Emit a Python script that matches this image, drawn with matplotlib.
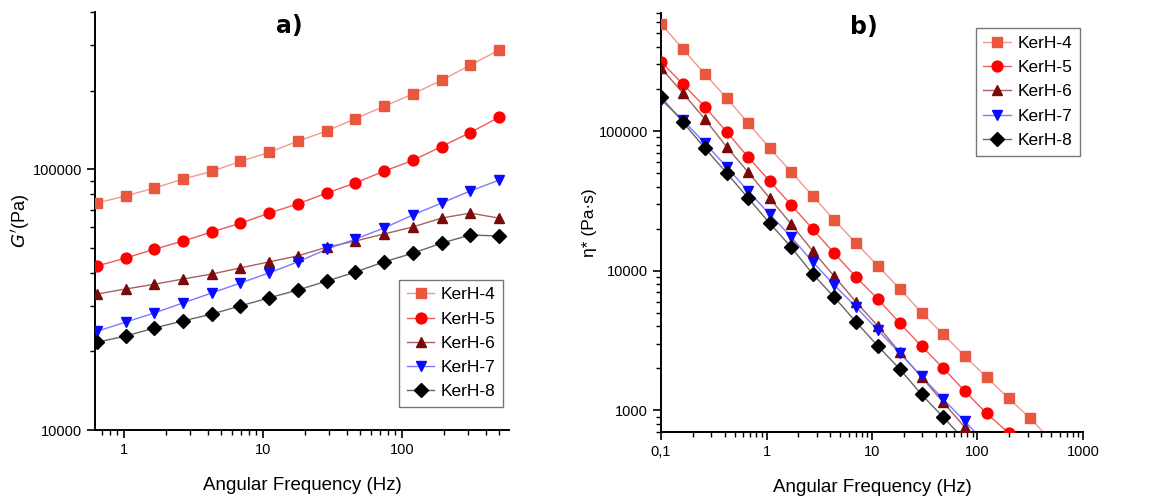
import matplotlib as mpl
mpl.use('Agg')
import matplotlib.pyplot as plt
from matplotlib.ticker import LogLocator, FixedLocator, FixedFormatter, NullFormatter

plt.rcParams['font.family'] = ['Liberation Sans Narrow', 'Liberation Sans', 'DejaVu Sans']

# ---- data: a) storage modulus G' ----
freq_a = [0.64, 1.03, 1.66, 2.67, 4.29, 6.9, 11.1, 17.9, 28.8, 46.3, 74.5, 120, 193, 310, 500]
gp = {
    'KerH-4': [74100, 78900, 84600, 91600, 98000, 107000, 116000, 128000, 140000, 156000,
               174000, 194000, 219000, 250000, 286000],
    'KerH-5': [42500, 45600, 49300, 53000, 57400, 62000, 67800, 73600, 80900, 88500,
               98200, 108000, 122000, 138000, 158000],
    'KerH-6': [33200, 34700, 36200, 37900, 39600, 41800, 44100, 46500, 50200, 53000,
               56400, 60000, 64900, 67800, 64900],
    'KerH-7': [23900, 25900, 28100, 30700, 33500, 36600, 40000, 44100, 49300, 53900,
               59500, 66700, 74100, 82400, 90700],
    'KerH-8': [21700, 22900, 24600, 26200, 27800, 29900, 32100, 34400, 37200, 40300,
               44100, 47600, 52000, 55900, 55400],
}

# ---- data: b) complex viscosity eta* ----
freq_b = [0.1, 0.161, 0.26, 0.42, 0.67, 1.07, 1.72, 2.75, 4.4, 7.1, 11.4, 18.4, 29.5,
          47.5, 76, 122, 197, 317, 508]
eta = {
    'KerH-4': [585000, 387000, 256000, 172000, 114000, 75500, 50800, 34200, 23000, 15700,
               10800, 7400, 5000, 3500, 2440, 1730, 1220, 877, 600],
    'KerH-5': [313000, 217000, 149000, 98500, 65000, 43900, 29500, 19800, 13300, 8970,
               6250, 4200, 2880, 2000, 1370, 951, 690, 470],
    'KerH-6': [283000, 187000, 122000, 76700, 50800, 33100, 21500, 13800, 9100, 5940,
               4000, 2600, 1730, 1140, 755, 500],
    'KerH-7': [167000, 120000, 82000, 55200, 37100, 25400, 17400, 11500, 7870, 5470,
               3740, 2560, 1750, 1200, 834, 570],
    'KerH-8': [175000, 116000, 75500, 50000, 33100, 21900, 14700, 9440, 6450, 4270,
               2880, 1970, 1300, 891, 610],
}

series = ['KerH-4', 'KerH-5', 'KerH-6', 'KerH-7', 'KerH-8']
markers = {'KerH-4': 's', 'KerH-5': 'o', 'KerH-6': '^', 'KerH-7': 'v', 'KerH-8': 'D'}
mcolors = {'KerH-4': '#e8583e', 'KerH-5': '#ff0000', 'KerH-6': '#7a0a0a',
           'KerH-7': '#0a0aff', 'KerH-8': '#000000'}
lcolors = {'KerH-4': '#f29a8c', 'KerH-5': '#f25a5a', 'KerH-6': '#a86060',
           'KerH-7': '#7a7aff', 'KerH-8': '#666666'}
msize = {'KerH-4': 6.5, 'KerH-5': 7.8, 'KerH-6': 7.8, 'KerH-7': 7.8, 'KerH-8': 6.8}

fig = plt.figure(figsize=(11.51, 5.0), dpi=100)
ax1 = fig.add_axes([0.0825, 0.14, 0.3597, 0.836])
ax2 = fig.add_axes([0.5743, 0.136, 0.3666, 0.838])


def style_axes(ax):
    ax.set_xscale('log')
    ax.set_yscale('log')
    for s in ['top', 'right']:
        ax.spines[s].set_visible(False)
    for s in ['left', 'bottom']:
        ax.spines[s].set_linewidth(1.4)
    ax.tick_params(which='major', direction='out', length=6, width=1.2, labelsize=10.5)
    ax.tick_params(which='minor', direction='out', length=3.5, width=1.0)
    ax.yaxis.set_minor_locator(LogLocator(base=10, subs=range(2, 10)))
    ax.xaxis.set_minor_locator(LogLocator(base=10, subs=range(2, 10)))
    ax.yaxis.set_minor_formatter(NullFormatter())
    ax.xaxis.set_minor_formatter(NullFormatter())


def add_legend(ax, **kw):
    leg = ax.legend(fontsize=12.5, fancybox=False, edgecolor='#555555',
                    handlelength=1.6, labelspacing=0.52, borderpad=0.45,
                    handletextpad=0.35, borderaxespad=0, **kw)
    leg.get_frame().set_linewidth(1.0)
    return leg


# a)
for k in series:
    ax1.plot(freq_a, gp[k], color=lcolors[k], lw=1.0, zorder=2)
    ax1.plot(freq_a, gp[k], ls='none', marker=markers[k], ms=msize[k],
             mfc=mcolors[k], mec=mcolors[k], zorder=3)
    ax1.plot([], [], color=lcolors[k], lw=1.0, marker=markers[k], ms=msize[k],
             mfc=mcolors[k], mec=mcolors[k], label=k)
style_axes(ax1)
ax1.set_xlim(0.62, 590)
ax1.set_ylim(10000, 400000)
ax1.xaxis.set_major_locator(FixedLocator([1, 10, 100]))
ax1.xaxis.set_major_formatter(FixedFormatter(['1', '10', '100']))
ax1.yaxis.set_major_locator(FixedLocator([10000, 100000]))
ax1.yaxis.set_major_formatter(FixedFormatter(['10000', '100000']))
ax1.set_xlabel('Angular Frequency (Hz)', fontsize=13.5, labelpad=14)
ax1.set_ylabel("$G'$(Pa)", fontsize=13, labelpad=0)
ax1.set_title('a)', fontsize=17, fontweight='bold', y=0.93, x=0.47,
              family=['DejaVu Sans'])
add_legend(ax1, loc='lower right', bbox_to_anchor=(0.986, 0.055))

# b)
for k in series:
    n = len(eta[k])
    ax2.plot(freq_b[:n], eta[k], color=lcolors[k], lw=1.0, zorder=2)
    ax2.plot(freq_b[:n], eta[k], ls='none', marker=markers[k], ms=msize[k],
             mfc=mcolors[k], mec=mcolors[k], zorder=3)
    ax2.plot([], [], color=lcolors[k], lw=1.0, marker=markers[k], ms=msize[k],
             mfc=mcolors[k], mec=mcolors[k], label=k)
style_axes(ax2)
ax2.set_xlim(0.1, 1000)
ax2.set_ylim(700, 700000)
ax2.xaxis.set_major_locator(FixedLocator([0.1, 1, 10, 100, 1000]))
ax2.xaxis.set_major_formatter(FixedFormatter(['0,1', '1', '10', '100', '1000']))
ax2.yaxis.set_major_locator(FixedLocator([1000, 10000, 100000]))
ax2.yaxis.set_major_formatter(FixedFormatter(['1000', '10000', '100000']))
ax2.set_xlabel('Angular Frequency (Hz)', fontsize=13.5, labelpad=14)
ax2.set_ylabel('\u03b7* (Pa\u00b7s)', fontsize=12.5, labelpad=1,
               family=['Liberation Sans Narrow', 'Liberation Sans', 'DejaVu Sans'])
ax2.set_title('b)', fontsize=17, fontweight='bold', y=0.93, x=0.48,
              family=['DejaVu Sans'])
add_legend(ax2, loc='upper right', bbox_to_anchor=(0.993, 0.964))

plt.savefig('out.png', dpi=100)
plt.close(fig)
